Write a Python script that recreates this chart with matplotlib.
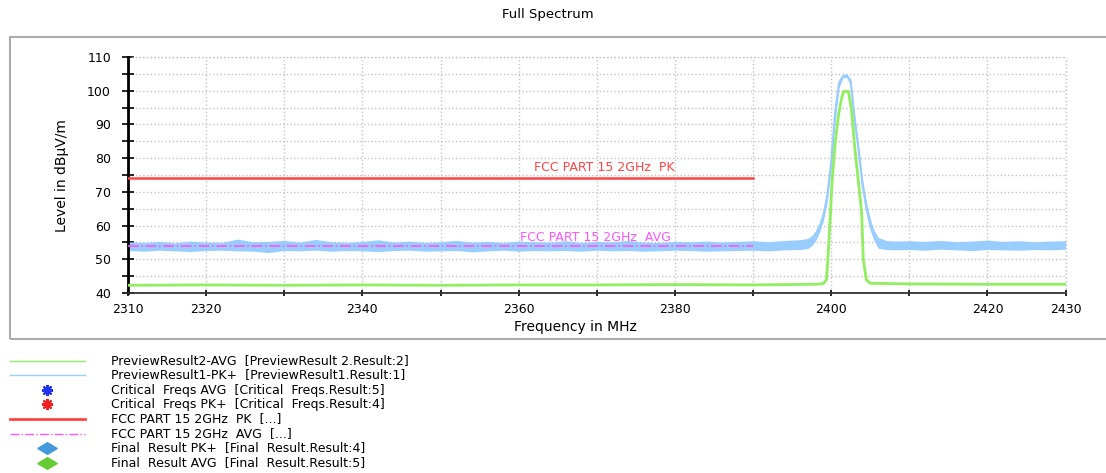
import matplotlib.pyplot as plt
from matplotlib.patches import Rectangle

# PK+ preview trace, drawn as a low/high noise band
blue_f = (list(range(2310, 2397, 2))
          + [2397, 2397.5, 2398, 2398.5, 2399, 2399.5, 2400, 2400.5, 2401, 2401.5,
             2402, 2402.5, 2403, 2403.5, 2404, 2404.5, 2405, 2405.5, 2406]
          + [2407, 2408, 2410, 2412, 2414, 2416, 2418, 2420, 2422, 2424, 2426, 2428, 2430])
blue_hi = ([55.2, 55.0, 55.3, 54.9, 55.4, 55.1, 55.0, 56.0, 55.2, 55.3, 55.6,
            55.1, 55.9, 55.2, 55.0, 55.3, 55.8, 55.1, 55.4, 55.0, 55.2, 55.6,
            55.1, 55.3, 55.0, 55.4, 55.2, 55.1, 55.5, 55.0, 55.3, 55.2, 55.6,
            55.1, 55.0, 55.3, 55.2, 55.4, 55.1, 55.3, 55.5, 55.2, 55.6, 55.8]
           + [56.2, 57.0, 58.5, 61.0, 64.5, 71.0, 81.0, 96.0, 103.5, 104.8,
              105.0, 103.5, 93.0, 84.0, 74.0, 67.0, 62.0, 58.5, 56.5]
           + [55.6, 55.4, 55.5, 55.3, 55.6, 55.2, 55.4, 55.7, 55.3, 55.5, 55.2, 55.4, 55.5])
blue_lo = ([52.6, 52.4, 52.7, 52.5, 52.3, 52.6, 52.7, 52.5, 52.4, 52.0, 52.6,
            52.5, 52.7, 52.4, 52.6, 52.5, 52.3, 52.6, 52.7, 52.4, 52.5, 52.6,
            52.2, 52.5, 52.7, 52.4, 52.6, 52.5, 52.6, 52.4, 52.7, 52.5, 52.6,
            52.4, 52.5, 52.7, 52.6, 52.4, 52.5, 52.6, 52.7, 52.5, 52.8, 52.9]
           + [53.2, 54.0, 55.5, 58.0, 61.5, 67.0, 77.0, 91.0, 101.0, 103.8,
              104.0, 101.5, 90.0, 80.5, 70.5, 63.5, 58.5, 55.5, 53.3]
           + [52.9, 52.8, 52.9, 52.7, 53.0, 52.8, 52.6, 52.9, 52.8, 52.7, 52.9, 52.8, 53.0])

# AVG preview trace
green_f = [2310, 2320, 2330, 2340, 2350, 2360, 2370, 2380, 2390, 2398,
           2399.0, 2399.4, 2399.7, 2400.1, 2400.5, 2400.9, 2401.3, 2401.6,
           2402.2, 2402.6, 2403.0, 2403.5, 2403.9, 2404.1, 2404.5, 2405.0,
           2410, 2420, 2430]
green_v = [42.3, 42.4, 42.3, 42.4, 42.3, 42.4, 42.4, 42.5, 42.4, 42.6,
           42.8, 44.0, 55.0, 72.6, 84.4, 92.3, 97.5, 99.8,
           99.8, 94.3, 83.4, 72.6, 63.7, 50.0, 43.9, 42.9,
           42.7, 42.6, 42.6]

# limit lines
limit_f = [2310, 2390]
pk_limit = [74, 74]
avg_limit = [54, 54]

xticks = list(range(2310, 2431, 10))
xlabels = ['2310', '2320', '', '2340', '', '2360', '', '2380', '', '2400', '', '2420', '2430']
yticks = list(range(40, 111, 10))

legend_labels = [
    'PreviewResult2-AVG  [PreviewResult 2.Result:2]',
    'PreviewResult1-PK+  [PreviewResult1.Result:1]',
    'Critical  Freqs AVG  [Critical  Freqs.Result:5]',
    'Critical  Freqs PK+  [Critical  Freqs.Result:4]',
    'FCC PART 15 2GHz  PK  [...]',
    'FCC PART 15 2GHz  AVG  [...]',
    'Final  Result PK+  [Final  Result.Result:4]',
    'Final  Result AVG  [Final  Result.Result:5]',
]

BLUE = '#99ccff'
GREEN = '#90ee60'
RED = '#ff4444'
MAGENTA = '#ff55ff'

plt.rcParams['font.family'] = ['DejaVu Sans']
fig = plt.figure(figsize=(11.06, 4.73), dpi=100)

# outer frame
fig.add_artist(Rectangle((0.009, 0.283), 1.2, 0.639, transform=fig.transFigure,
                         fill=False, edgecolor='#aaaaaa', lw=1.5))

ax = fig.add_axes([0.1157, 0.3805, 0.8478, 0.499])
ax.fill_between(blue_f, blue_lo, blue_hi, color=BLUE, lw=0, zorder=2)
ax.plot(blue_f, [(a + b) / 2 for a, b in zip(blue_lo, blue_hi)], color=BLUE, lw=1.5, zorder=2)
ax.plot(green_f, green_v, color=GREEN, lw=2, zorder=3)
ax.plot(limit_f, avg_limit, color=MAGENTA, lw=1.2, ls='-.', zorder=4)
ax.plot(limit_f, pk_limit, color=RED, lw=1.8, zorder=4)
ax.text(2371, 77.1, 'FCC PART 15 2GHz  PK', color=RED, fontsize=9, ha='center', va='center')
ax.text(2369.8, 56.6, 'FCC PART 15 2GHz  AVG', color=MAGENTA, fontsize=9, ha='center', va='center')

ax.set_xlim(2310, 2430)
ax.set_ylim(40, 110)
ax.set_xticks(xticks)
ax.set_xticklabels(xlabels)
ax.set_yticks(yticks)
ax.set_yticks(list(range(45, 110, 10)), minor=True)
ax.tick_params(axis='both', which='both', direction='inout', labelsize=9, color='black')
ax.tick_params(axis='y', which='both', length=8.5, width=1.2, pad=8)
ax.tick_params(axis='x', which='both', length=5, width=1.2, pad=5)
ax.grid(True, which='both', ls=':', color='#c4c4c4', lw=1)
for s in ['top', 'right']:
    ax.spines[s].set_visible(False)
ax.spines['left'].set_linewidth(2)
ax.spines['bottom'].set_linewidth(1.3)
ax.spines['bottom'].set_color('#333333')
ax.set_axisbelow(True)
ax.axhline(110, color='#c4c4c4', ls=':', lw=1, clip_on=False)
ax.axvline(2430, color='#c4c4c4', ls=':', lw=1, clip_on=False)

fig.text(0.495, 0.970, 'Full Spectrum', fontsize=9.5, ha='center', va='center')
fig.text(0.52, 0.309, 'Frequency in MHz', fontsize=10, ha='center', va='center')
fig.text(0.056, 0.628, 'Level in dBµV/m', fontsize=10, rotation=90, ha='center', va='center')

# legend block under the frame
rows = [361, 375, 390, 404, 419, 434, 448, 463]
diamond = [(-1, 0), (0, 0.6), (1, 0), (0, -0.6), (-1, 0)]
lg = fig.add_axes([0, 0, 1, 1], zorder=-1)
lg.set_xlim(0, 1106)
lg.set_ylim(473, 0)
lg.axis('off')
lg.plot([10, 85], [rows[0]] * 2, color=GREEN, lw=1)
lg.plot([10, 85], [rows[1]] * 2, color=BLUE, lw=1)
lg.plot([47], [rows[2]], marker=(8, 2, 0), color='#2233ee', mew=1.5, ms=8, ls='none')
lg.plot([47], [rows[3]], marker=(8, 2, 0), color='#ee2222', mew=1.5, ms=8, ls='none')
lg.plot([10, 85], [rows[4]] * 2, color=RED, lw=2)
lg.plot([10, 85], [rows[5]] * 2, color=MAGENTA, lw=1, ls='-.')
lg.plot([47], [rows[6]], marker=diamond, color='#4499dd', ms=14, ls='none')
lg.plot([47], [rows[7]], marker=diamond, color='#66cc33', ms=14, ls='none')
for r, t in zip(rows, legend_labels):
    lg.text(111, r, t, fontsize=9, ha='left', va='center')

fig.savefig('out.png', dpi=100)
